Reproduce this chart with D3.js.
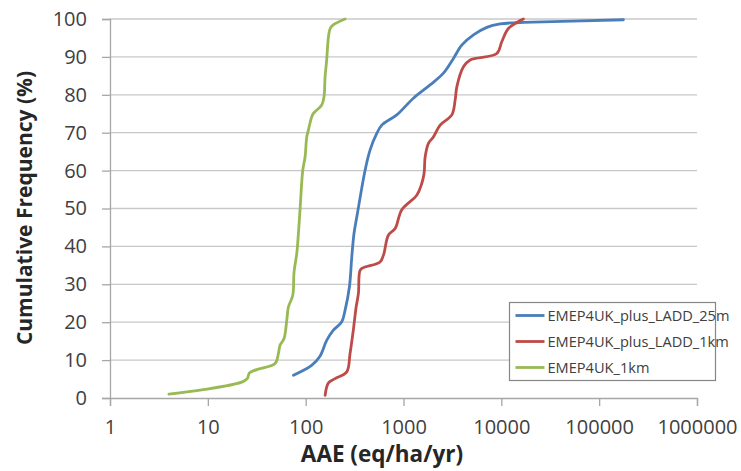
<!DOCTYPE html>
<html>
<head>
<meta charset="utf-8">
<script src="https://cdn.jsdelivr.net/npm/d3@7"></script>
<style>
  body { margin: 0; background: #fff; }
  text { font-family: "Open Sans", "Liberation Sans", sans-serif; fill: #404040; }
</style>
</head>
<body>
<svg id="chart" width="741" height="471"></svg>
<script>
// series: AAE (eq/ha/yr) vs cumulative frequency (%)
var seriesNames = ["EMEP4UK_plus_LADD_25m", "EMEP4UK_plus_LADD_1km", "EMEP4UK_1km"];
var seriesColors = ["#4a7ebb", "#be4b48", "#98b954"];

var ladd25mAAE  = [75, 115, 140, 164, 192, 234, 253, 280, 296, 312, 338, 405, 455, 533, 600, 853, 1262, 1870, 2560, 3240, 3940, 5190, 7110, 9720, 13300, 16800, 177000];
var ladd25mFreq = [6.0, 8.6, 11.0, 15.2, 17.9, 20.1, 23.2, 29.3, 37.2, 43.4, 48.7, 60.1, 65.4, 69.8, 72.0, 74.7, 79.1, 82.6, 85.7, 89.6, 93.1, 95.8, 97.8, 98.7, 99.0, 99.1, 99.8];

var ladd1kmAAE  = [158, 171, 200, 263, 284, 307, 328, 346, 360, 389, 576, 624, 702, 821, 961, 1366, 1537, 1624, 1664, 1799, 2024, 2368, 3118, 3372, 3508, 4100, 4800, 8990, 10100, 11800, 15600, 16800];
var ladd1kmFreq = [0.7, 4.0, 5.1, 6.9, 11.7, 17.9, 24.0, 27.6, 33.7, 34.4, 35.9, 37.7, 43.0, 44.7, 49.7, 53.5, 56.6, 59.3, 63.6, 67.2, 68.9, 72.0, 74.7, 78.6, 82.1, 87.4, 89.2, 90.9, 94.0, 97.5, 99.6, 100];

var emep1kmAAE  = [4, 9, 22.2, 25.3, 26.6, 31.6, 48.7, 52.6, 54.7, 60.1, 64.1, 66.6, 73.8, 76.1, 81.1, 84.3, 87.6, 93.4, 98.6, 102.6, 106.6, 115.4, 120, 146, 154, 158, 164, 171, 178, 190, 253];
var emep1kmFreq = [1.0, 2.2, 4.2, 5.1, 6.6, 7.5, 9.1, 11.7, 13.9, 15.7, 20.5, 24.0, 27.1, 33.3, 38.1, 43.4, 49.7, 60.1, 63.6, 68.9, 70.7, 74.2, 75.1, 77.3, 79.5, 84.8, 89.2, 95.3, 97.5, 98.4, 100];

var xTicks = [1, 10, 100, 1000, 10000, 100000, 1000000];
var yTicks = [0, 10, 20, 30, 40, 50, 60, 70, 80, 90, 100];

var margin = {top: 19, right: 44, bottom: 73, left: 110};
var W = 741, H = 471;
var width = W - margin.left - margin.right;
var height = H - margin.top - margin.bottom;

var svg = d3.select("#chart");
var g = svg.append("g").attr("transform", "translate(" + margin.left + "," + margin.top + ")");

var x = d3.scaleLog().domain([1, 1e6]).range([0, width]);
var y = d3.scaleLinear().domain([0, 100]).range([height, 0]);

// gridlines
g.append("g").selectAll("line").data(yTicks.slice(1)).enter().append("line")
  .attr("x1", 0).attr("x2", width)
  .attr("y1", function(d) { return y(d); }).attr("y2", function(d) { return y(d); })
  .style("stroke", "#c8c8c8").style("stroke-width", 1.3);

// y axis
var yAxis = g.append("g")
  .call(d3.axisLeft(y).tickValues(yTicks).tickSize(8).tickPadding(15));
yAxis.select(".domain").style("stroke", "#a6a6a6").style("stroke-width", 1.3);
yAxis.selectAll(".tick line").style("stroke", "#a6a6a6").style("stroke-width", 1.3);
yAxis.selectAll("text").style("font-size", "20px").style("fill", "#404040");

// x axis
var xAxis = g.append("g").attr("transform", "translate(0," + height + ")")
  .call(d3.axisBottom(x).tickValues(xTicks).tickFormat(d3.format("d")).tickSize(8).tickPadding(14));
xAxis.select(".domain").style("stroke", "#a6a6a6").style("stroke-width", 1.3);
xAxis.selectAll(".tick line").style("stroke", "#a6a6a6").style("stroke-width", 1.3);
xAxis.selectAll("text").style("font-size", "20px").style("fill", "#404040");

// lines
var seriesData = [
  d3.zip(ladd25mAAE, ladd25mFreq),
  d3.zip(ladd1kmAAE, ladd1kmFreq),
  d3.zip(emep1kmAAE, emep1kmFreq)
];

var line = d3.line()
  .x(function(d) { return x(d[0]); })
  .y(function(d) { return y(d[1]); })
  .curve(d3.curveCatmullRom.alpha(0.5));

g.selectAll(".series").data(seriesData).enter().append("path")
  .attr("class", "series")
  .attr("d", line)
  .style("fill", "none")
  .style("stroke", function(d, i) { return seriesColors[i]; })
  .style("stroke-width", 2.8)
  .style("stroke-linejoin", "round")
  .style("stroke-linecap", "round");

// axis titles
svg.append("text")
  .attr("x", 382).attr("y", 462)
  .attr("text-anchor", "middle")
  .style("font-size", "22.5px").style("font-weight", "bold").style("fill", "#262626")
  .text("AAE (eq/ha/yr)");

svg.append("text")
  .attr("transform", "translate(32,208) rotate(-90)")
  .attr("text-anchor", "middle")
  .style("font-size", "21px").style("font-weight", "bold").style("fill", "#262626")
  .text("Cumulative Frequency (%)");

// legend
var legend = svg.append("g").attr("transform", "translate(509.5,302.5)");
legend.append("rect")
  .attr("width", 206).attr("height", 78)
  .style("fill", "#fff").style("stroke", "#868686").style("stroke-width", 1.2);

var items = legend.selectAll(".item").data(seriesNames).enter().append("g")
  .attr("class", "item")
  .attr("transform", function(d, i) { return "translate(0," + (13 + i * 26) + ")"; });
items.append("line")
  .attr("x1", 6).attr("x2", 35).attr("y1", 0).attr("y2", 0)
  .style("stroke", function(d, i) { return seriesColors[i]; })
  .style("stroke-width", 2.8);
items.append("text")
  .attr("x", 38).attr("dy", "0.35em")
  .style("font-size", "14.6px").style("fill", "#404040")
  .text(function(d) { return d; });
</script>
</body>
</html>
